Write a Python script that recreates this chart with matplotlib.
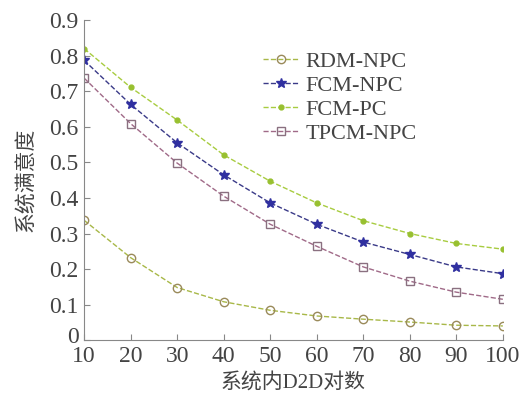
import matplotlib
matplotlib.use('Agg')
import matplotlib.pyplot as plt
import matplotlib.transforms as mtransforms

# data
x = [10, 20, 30, 40, 50, 60, 70, 80, 90, 100]
rdm_npc = [0.337, 0.232, 0.148, 0.108, 0.084, 0.068, 0.059, 0.051, 0.042, 0.040]
fcm_npc = [0.787, 0.663, 0.555, 0.465, 0.386, 0.326, 0.276, 0.241, 0.206, 0.187]
fcm_pc = [0.820, 0.711, 0.619, 0.521, 0.447, 0.386, 0.336, 0.300, 0.272, 0.256]
tpcm_npc = [0.737, 0.609, 0.498, 0.405, 0.326, 0.264, 0.206, 0.166, 0.135, 0.115]
labels = ['RDM-NPC', 'FCM-NPC', 'FCM-PC', 'TPCM-NPC']

serif = ['Liberation Serif', 'Noto Sans CJK SC']
plt.rcParams['font.family'] = serif

fig = plt.figure(figsize=(5.26, 3.96), dpi=100)
ax = fig.add_axes([0.16, 0.141, 0.796, 0.808])

ax.plot(x, rdm_npc, '--o', color='#a8b848', mfc='none', mec='#9a8a5a', ms=6, lw=1, label=labels[0])
ax.plot(x, fcm_npc, '--*', color='#3a3a88', mfc='#3030a0', mec='#3030a0', ms=7, lw=1, label=labels[1])
ax.plot(x, fcm_pc, '--.', color='#a8cc40', mfc='#98c030', mec='#98c030', ms=7, lw=1, label=labels[2])
ax.plot(x, tpcm_npc, '--s', color='#a06a88', mfc='none', mec='#8a7080', ms=6, lw=1, label=labels[3])

ax.set_xlim(10, 100)
ax.set_ylim(0, 0.9)
ax.set_xticks(x)
ax.set_yticks([0, 0.1, 0.2, 0.3, 0.4, 0.5, 0.6, 0.7, 0.8, 0.9])
ax.set_yticklabels(['0', '0.1', '0.2', '0.3', '0.4', '0.5', '0.6', '0.7', '0.8', '0.9'])
ax.tick_params(direction='in', labelsize=17, color='#888888', length=4)
ax.tick_params(axis='y', pad=4)
ax.tick_params(axis='x', pad=4)
for s in ['top', 'right']:
    ax.spines[s].set_visible(False)
for s in ['left', 'bottom']:
    ax.spines[s].set_color('#888888')

# lift the "0" label a little so it clears the "10" below it
zero = ax.get_yticklabels()[0]
zero.set_transform(zero.get_transform() + mtransforms.ScaledTranslation(0, 4 / 72, fig.dpi_scale_trans))

ax.set_xlabel('系统内D2D对数', fontsize=15, color='#444444', labelpad=4)
ax.set_ylabel('系统满意度', fontsize=15, color='#444444', labelpad=9)
for t in ax.get_xticklabels() + ax.get_yticklabels():
    t.set_color('#444444')

leg = ax.legend(loc='upper left', bbox_to_anchor=(0.38, 0.965), frameon=False,
                fontsize=16, handlelength=1.6, labelspacing=0.15, handletextpad=0.3)
for t in leg.get_texts():
    t.set_color('#444444')

plt.savefig('out.png', dpi=100)
plt.close('all')
